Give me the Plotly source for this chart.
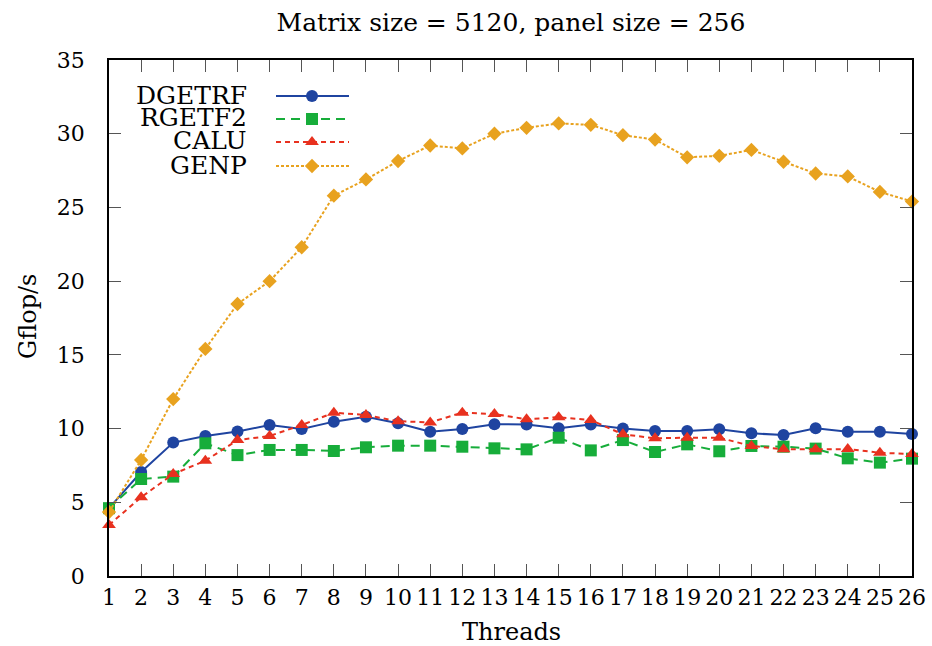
import plotly.graph_objects as go

threads = list(range(1, 27))
series_names = ["DGETRF", "RGETF2", "CALU", "GENP"]

dgetrf = [4.6, 7.05, 9.05, 9.5, 9.8, 10.24, 9.97, 10.47, 10.8, 10.36, 9.79, 9.97, 10.3,
          10.27, 10.02, 10.27, 10.0, 9.84, 9.84, 9.95, 9.68, 9.56, 10.02, 9.79, 9.79, 9.63]
rgetf2 = [4.6, 6.58, 6.74, 9.0, 8.2, 8.55, 8.55, 8.48, 8.73, 8.84, 8.84, 8.77, 8.66,
          8.59, 9.38, 8.52, 9.22, 8.41, 8.93, 8.46, 8.82, 8.77, 8.64, 7.98, 7.69, 7.96]
calu = [3.46, 5.34, 6.92, 7.82, 9.22, 9.5, 10.24, 11.08, 10.92, 10.5, 10.42, 11.08, 10.99,
        10.63, 10.77, 10.58, 9.61, 9.34, 9.38, 9.38, 8.82, 8.59, 8.59, 8.61, 8.36, 8.27]
genp = [4.34, 7.87, 12.0, 15.4, 18.45, 20.0, 22.3, 25.8, 26.9, 28.15, 29.2, 29.0, 30.0,
        30.4, 30.7, 30.6, 29.9, 29.6, 28.4, 28.5, 28.9, 28.1, 27.3, 27.1, 26.05, 25.4]

y_ticks = [0, 5, 10, 15, 20, 25, 30, 35]
title_text = "Matrix size = 5120, panel size = 256"
x_label = "Threads"
y_label = "Gflop/s"

colors = ["#1f44a0", "#17ad3a", "#e8311f", "#e8a21f"]
symbols = ["circle", "square", "triangle-up", "diamond"]
dashes = ["solid", "9px,6px", "5px,4px", "3px,2px"]
msizes = [12, 12, 12, 11]
values = [dgetrf, rgetf2, calu, genp]

FONT = "DejaVu Serif"
W, H = 932, 646
ML, MR, MT, MB = 109, 20, 60, 70
PW, PH = W - ML - MR, H - MT - MB


def px(x):
    return (x - ML) / PW


def py(y):
    return (H - MB - y) / PH


fig = go.Figure()
for name, vals, c, s, d, ms in zip(series_names, values, colors, symbols, dashes, msizes):
    fig.add_trace(go.Scatter(
        x=threads, y=vals, name=name, mode="lines+markers",
        line=dict(color=c, width=2, dash=d),
        marker=dict(color=c, symbol=s, size=ms, line=dict(width=0)),
        showlegend=False, cliponaxis=False,
    ))

# manual legend (text on the left, sample on the right), drawn on an overlay axis
leg_rows = [96, 119, 142, 166]
for name, c, s, d, ms, row in zip(series_names, colors, symbols, dashes, msizes, leg_rows):
    ly = py(row)
    fig.add_trace(go.Scatter(
        x=[px(276), px(349)], y=[ly, ly], mode="lines", xaxis="x2", yaxis="y2",
        line=dict(color=c, width=2, dash=d), showlegend=False, hoverinfo="skip",
    ))
    fig.add_trace(go.Scatter(
        x=[px(312)], y=[ly], mode="markers", xaxis="x2", yaxis="y2",
        marker=dict(color=c, symbol=s, size=ms, line=dict(width=0)),
        showlegend=False, hoverinfo="skip",
    ))
    fig.add_annotation(
        x=px(249), y=ly + 1.0 / PH, xref="paper", yref="paper", text=name, showarrow=False,
        xanchor="right", yanchor="middle", font=dict(family=FONT, size=25, color="black"),
    )

# axis titles
fig.add_annotation(x=px(511), y=py(632), xref="paper", yref="paper", text=x_label,
                   showarrow=False, xanchor="center", yanchor="middle",
                   font=dict(family=FONT, size=24, color="black"))
fig.add_annotation(x=px(28), y=py(317), xref="paper", yref="paper", text=y_label,
                   textangle=-90, showarrow=False, xanchor="center", yanchor="middle",
                   font=dict(family=FONT, size=24, color="black"))

axis_common = dict(
    showgrid=False, zeroline=False, showline=True, linecolor="black", linewidth=1.5,
    mirror="ticks", ticks="inside", ticklen=12, tickwidth=1, tickcolor="#555555",
    tickfont=dict(family=FONT, size=22, color="black"), automargin=False,
)

fig.update_layout(
    width=W, height=H, template="none",
    margin=dict(l=ML, r=MR, t=MT, b=MB, pad=0),
    paper_bgcolor="white", plot_bgcolor="white",
    title=dict(text=title_text, x=511 / W, xanchor="center", y=1 - 22 / H, yanchor="middle",
               font=dict(family=FONT, size=25, color="black")),
    xaxis=dict(range=[1, 26], tickvals=threads, ticktext=[str(t) for t in threads],
               ticklabelstandoff=1, **axis_common),
    yaxis=dict(range=[0, 35], tickvals=y_ticks, ticklabelstandoff=18, **axis_common),
    xaxis2=dict(overlaying="x", range=[0, 1], visible=False, fixedrange=True),
    yaxis2=dict(overlaying="y", range=[0, 1], visible=False, fixedrange=True),
    showlegend=False,
)

fig.write_html("out.html")
